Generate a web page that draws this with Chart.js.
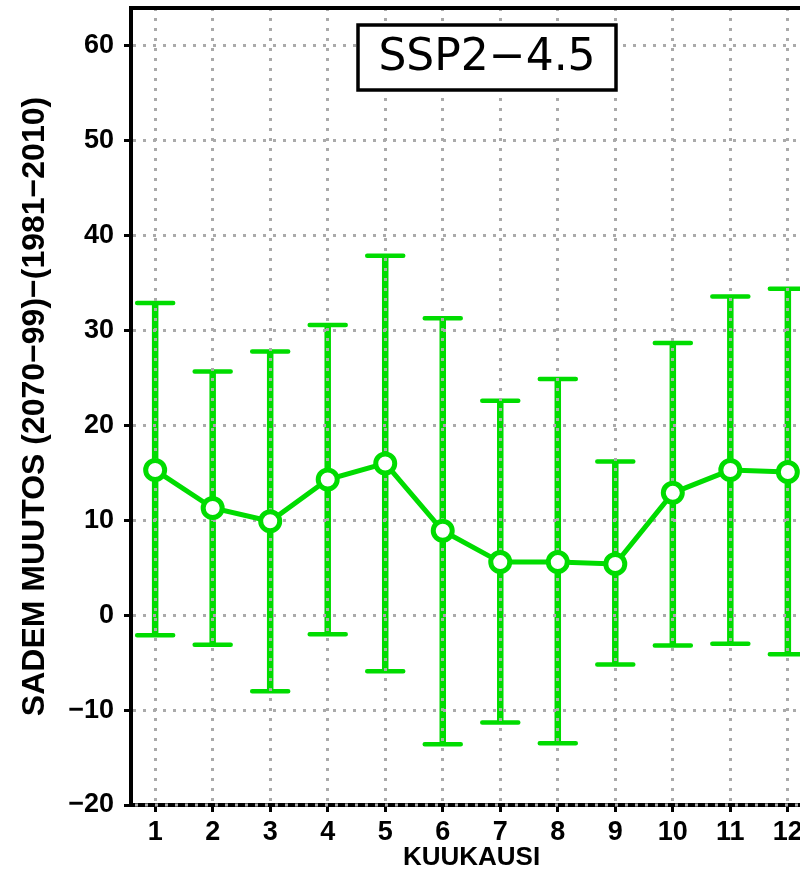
<!DOCTYPE html>
<html>
<head>
<meta charset="utf-8">
<script src="https://cdn.jsdelivr.net/npm/chart.js@4.4.1/dist/chart.umd.min.js"></script>
<style>
  html, body { margin: 0; padding: 0; background: #fff; overflow: hidden; }
  #wrap { width: 812px; height: 873px; }
</style>
</head>
<body>
<div id="wrap"><canvas id="chart" width="812" height="873"></canvas></div>
<script>
const months = [1, 2, 3, 4, 5, 6, 7, 8, 9, 10, 11, 12]
const meanChange = [15.3, 11.3, 9.9, 14.3, 16.0, 8.9, 5.6, 5.6, 5.4, 12.9, 15.3, 15.1]
const upperChange = [32.9, 25.7, 27.8, 30.6, 37.9, 31.3, 22.6, 24.9, 16.2, 28.7, 33.6, 34.4]
const lowerChange = [-2.1, -3.1, -8.0, -2.0, -5.9, -13.6, -11.3, -13.5, -5.2, -3.2, -3.0, -4.1]
const yTicks = [-20, -10, 0, 10, 20, 30, 40, 50, 60]

const green = 'rgb(0, 220, 0)'
const dotGray = '#aaaaaa'

// error bars go under the grid so the dotted grid shows over them
const errorBars = {
    id: 'errorBars',
    beforeDraw(chart) {
        const ctx = chart.ctx
        const x = chart.scales.x
        const y = chart.scales.y
        ctx.save()
        ctx.strokeStyle = green
        months.forEach((m, i) => {
            const px = x.getPixelForValue(m)
            const top = y.getPixelForValue(upperChange[i])
            const bot = y.getPixelForValue(lowerChange[i])
            ctx.lineCap = 'butt'
            ctx.lineWidth = 6.5
            ctx.beginPath()
            ctx.moveTo(px, top)
            ctx.lineTo(px, bot)
            ctx.stroke()
            ctx.lineWidth = 4.5
            ctx.lineCap = 'round'
            ctx.beginPath()
            ctx.moveTo(px - 18, top)
            ctx.lineTo(px + 18, top)
            ctx.moveTo(px - 18, bot)
            ctx.lineTo(px + 18, bot)
            ctx.stroke()
        })
        ctx.restore()
    },
    afterDraw(chart) {
        const ctx = chart.ctx
        const area = chart.chartArea
        ctx.save()
        // top frame line
        ctx.strokeStyle = '#000'
        ctx.lineWidth = 4
        ctx.beginPath()
        ctx.moveTo(area.left - 2, area.top)
        ctx.lineTo(area.right, area.top)
        ctx.stroke()
        // grid dots over the bottom axis line
        ctx.strokeStyle = dotGray
        ctx.lineWidth = 3
        ctx.setLineDash([3, 7])
        ctx.beginPath()
        ctx.moveTo(area.left + 4, area.bottom)
        ctx.lineTo(area.right, area.bottom)
        ctx.stroke()
        ctx.setLineDash([])
        // scenario box
        const bx = area.left + 227, by = area.top + 17, bw = 258, bh = 65
        ctx.fillStyle = '#fff'
        ctx.fillRect(bx, by, bw, bh)
        ctx.strokeStyle = '#000'
        ctx.lineWidth = 3.5
        ctx.strokeRect(bx, by, bw, bh)
        ctx.fillStyle = '#000'
        ctx.font = '44px "DejaVu Sans"'
        ctx.textAlign = 'center'
        ctx.textBaseline = 'middle'
        ctx.fillText('SSP2\u22124.5', bx + bw / 2, by + bh / 2 + 1)
        ctx.restore()
    }
}

const tickFont = { family: '"Liberation Sans", Arial, sans-serif', size: 27, weight: 'bold' }

new Chart(document.getElementById('chart'), {
    type: 'line',
    data: {
        datasets: [{
            label: 'SSP2-4.5',
            data: months.map((m, i) => ({ x: m, y: meanChange[i] })),
            borderColor: green,
            borderWidth: 5,
            pointRadius: 9.5,
            pointBorderWidth: 5,
            pointBackgroundColor: '#fff',
            pointBorderColor: green,
            tension: 0
        }]
    },
    plugins: [errorBars],
    options: {
        responsive: false,
        animation: false,
        layout: { autoPadding: false, padding: { top: 8, left: 0, right: 0, bottom: 0 } },
        plugins: {
            legend: { display: false },
            tooltip: { enabled: false }
        },
        scales: {
            x: {
                type: 'linear',
                min: 0.58,
                max: 12.42,
                afterBuildTicks: (s) => { s.ticks = months.map(v => ({ value: v })) },
                afterFit: (s) => { s.height = 68; s.paddingLeft = 0; s.paddingRight = 0 },
                ticks: {
                    font: tickFont,
                    color: '#000',
                    padding: 4,
                    maxRotation: 0,
                    autoSkip: false
                },
                grid: {
                    color: dotGray,
                    lineWidth: 3,
                    tickColor: '#000',
                    tickWidth: 3,
                    tickLength: 7,
                    tickBorderDash: []
                },
                border: { color: '#000', width: 4, dash: [3, 7] },
                title: {
                    display: true,
                    text: 'KUUKAUSI',
                    color: '#000',
                    font: { family: '"Liberation Sans", Arial, sans-serif', size: 26, weight: 'bold', lineHeight: 1 },
                    padding: { top: 0, bottom: 2 }
                }
            },
            y: {
                min: -20,
                max: 64,
                afterBuildTicks: (s) => { s.ticks = yTicks.map(v => ({ value: v })) },
                afterFit: (s) => { s.width = 131; s.paddingTop = 0; s.paddingBottom = 0 },
                ticks: {
                    font: tickFont,
                    color: '#000',
                    padding: 10,
                    callback: (v) => String(v).replace('-', '\u2212')
                },
                grid: {
                    color: dotGray,
                    lineWidth: 3,
                    tickColor: '#000',
                    tickWidth: 3,
                    tickLength: 7,
                    tickBorderDash: []
                },
                border: { color: '#000', width: 4, dash: [3, 7] },
                title: {
                    display: true,
                    text: 'SADEM MUUTOS (2070\u221299)\u2212(1981\u22122010)',
                    color: '#000',
                    font: { family: '"Liberation Sans", Arial, sans-serif', size: 32, weight: 'bold', lineHeight: 1 },
                    padding: { top: 19, bottom: 0 }
                }
            }
        }
    }
})
</script>
</body>
</html>
